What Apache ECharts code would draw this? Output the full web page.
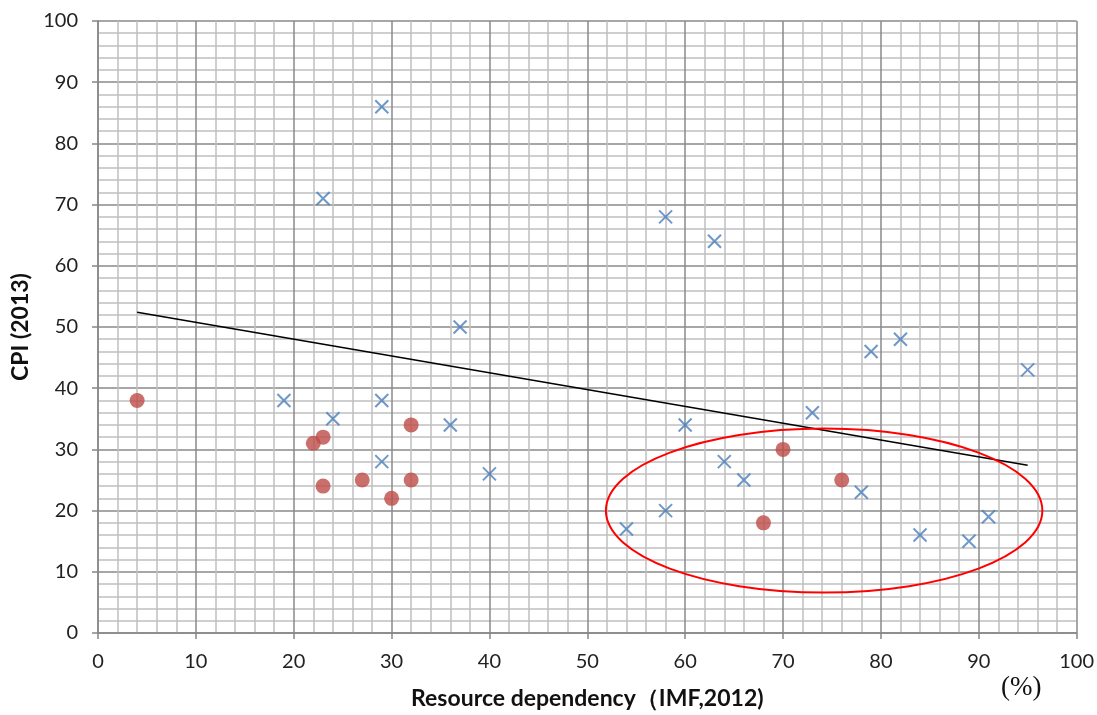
<!DOCTYPE html>
<html>
<head>
<meta charset="utf-8">
<script src="https://cdn.jsdelivr.net/npm/echarts@6/dist/echarts.min.js"></script>
<style>
  html, body { margin: 0; padding: 0; background: #fff; }
  #chart { width: 1097px; height: 715px; }
</style>
</head>
<body>
<div id="chart"></div>
<script>
// Countries shown as blue crosses: resource dependency (%) and CPI score
const crossX = [29, 23, 58, 63, 37, 82, 79, 95, 19, 29, 24, 36, 60, 73, 29, 40, 64, 66, 78, 58, 54, 84, 89, 91];
const crossY = [86, 71, 68, 64, 50, 48, 46, 43, 38, 38, 35, 34, 34, 36, 28, 26, 28, 25, 23, 20, 17, 16, 15, 19];

// Countries shown as red dots
const dotX = [4, 22, 23, 32, 23, 27, 30, 32, 70, 76, 68];
const dotY = [38, 31, 32, 34, 24, 25, 22, 25, 30, 25, 18];

// Linear trend line endpoints
const trendX = [4, 95];
const trendY = [52.4, 27.4];

// Highlighted group: centre (x, y) and half-widths (x, y) in data units
const groupEllipse = [74.2, 20, 22.3, 13.4];

const xTicks = [0, 10, 20, 30, 40, 50, 60, 70, 80, 90, 100];
const yTicks = [0, 10, 20, 30, 40, 50, 60, 70, 80, 90, 100];

const pair = (xs, ys) => xs.map((x, i) => [x, ys[i]]);

const labelFont = { fontFamily: 'Lato, "Open Sans", sans-serif', fontSize: 20, color: '#222' };
const nameFont = { fontFamily: 'Lato, "Open Sans", sans-serif', fontSize: 23, fontWeight: 'bold', color: '#111' };

const axisCommon = {
  type: 'value',
  interval: 10,
  axisLine: { show: true, lineStyle: { color: '#878787', width: 1.5 } },
  axisTick: { show: true, length: 6, lineStyle: { color: '#878787', width: 1.5 } },
  splitLine: { show: true, lineStyle: { color: '#8a8a8a', width: 1.5 } },
  minorTick: { show: true, splitNumber: 5, length: 0 },
  minorSplitLine: { show: true, lineStyle: { color: '#c0c0c0', width: 1.5 } }
};

const chart = echarts.init(document.getElementById('chart'), null, { renderer: 'canvas' });

chart.setOption({
  animation: false,
  backgroundColor: '#ffffff',
  grid: { left: 98, right: 20, top: 21, bottom: 81, containLabel: false },
  xAxis: Object.assign({}, axisCommon, {
    min: xTicks[0], max: xTicks[xTicks.length - 1],
    axisLabel: Object.assign({ margin: 19 }, labelFont),
    name: 'Resource dependency（IMF,2012)',
    nameLocation: 'middle',
    nameGap: 54,
    nameTextStyle: nameFont
  }),
  yAxis: Object.assign({}, axisCommon, {
    min: yTicks[0], max: yTicks[yTicks.length - 1],
    axisLabel: Object.assign({ margin: 20 }, labelFont),
    name: 'CPI (2013)',
    nameLocation: 'middle',
    nameGap: 64,
    nameRotate: 90,
    nameTextStyle: nameFont
  }),
  graphic: [{
    type: 'text',
    left: 1001,
    top: 674,
    style: { text: '(%)', font: '27px "Liberation Serif", "DejaVu Serif", serif', fill: '#111' }
  }],
  series: [
    {
      type: 'line',
      data: pair(trendX, trendY),
      symbol: 'none',
      lineStyle: { color: '#000', width: 1.5 },
      z: 3
    },
    {
      type: 'scatter',
      data: pair(crossX, crossY),
      symbol: 'path://M0,0L10,10M10,0L0,10',
      symbolSize: 13,
      itemStyle: { color: 'none', borderColor: '#4a7ebb', borderWidth: 2 },
      z: 4
    },
    {
      type: 'scatter',
      data: pair(dotX, dotY),
      symbol: 'circle',
      symbolSize: 15,
      itemStyle: { color: '#be4b48' },
      z: 4
    },
    {
      type: 'custom',
      data: [groupEllipse],
      encode: { x: 0, y: 1 },
      z: 5,
      renderItem: function (params, api) {
        const c = api.coord([api.value(0), api.value(1)]);
        const s = api.size([api.value(2), api.value(3)]);
        return {
          type: 'ellipse',
          shape: { cx: c[0], cy: c[1], rx: s[0], ry: s[1] },
          style: { fill: 'none', stroke: '#ff0000', lineWidth: 2 }
        };
      }
    }
  ]
});
</script>
</body>
</html>
